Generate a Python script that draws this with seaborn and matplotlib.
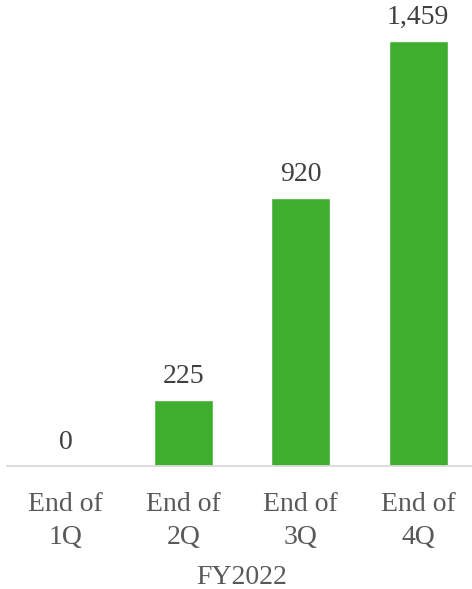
import matplotlib
matplotlib.use("Agg")
import matplotlib.pyplot as plt
import seaborn as sns
import pandas as pd

categories = ["End of\n1Q", "End of\n2Q", "End of\n3Q", "End of\n4Q"]
values = [0, 225, 920, 1459]
value_labels = ["0", "225", "920", "1,459"]
period_label = "FY2022"

sns.set_theme(style="white")
plt.rcParams["font.family"] = ["Liberation Serif", "DejaVu Serif"]

df = pd.DataFrame({"cat": categories, "val": values})

fig = plt.figure(figsize=(4.72, 5.89), dpi=100)
ax = fig.add_axes([7 / 472, 123 / 589, 465 / 472, 466 / 589])

sns.barplot(data=df, x="cat", y="val", color="#3fae2e", width=0.5,
            saturation=1, ax=ax)

ax.set_xlim(-0.5, -0.5 + 465 / 117.5)
ax.set_ylim(0, 1459 * 466 / 425)

for i, (v, lab) in enumerate(zip(values, value_labels)):
    ax.annotate(lab, (i, v), xytext=(0, 8), textcoords="offset points",
                ha="center", va="bottom", fontsize=20, color="#404040")

for s in ["top", "right", "left"]:
    ax.spines[s].set_visible(False)
ax.spines["bottom"].set_color("#d9d9d9")
ax.spines["bottom"].set_linewidth(1.3)
ax.set_yticks([])
ax.set_ylabel("")
ax.set_xlabel("")
ax.tick_params(axis="x", length=0, pad=19, labelsize=20, labelcolor="#595959")
for t in ax.get_xticklabels():
    t.set_linespacing(1.4)

fig.text(242 / 472, 12 / 589, period_label, ha="center", va="center",
         fontsize=20, color="#595959")

fig.savefig("out.png", dpi=100)
